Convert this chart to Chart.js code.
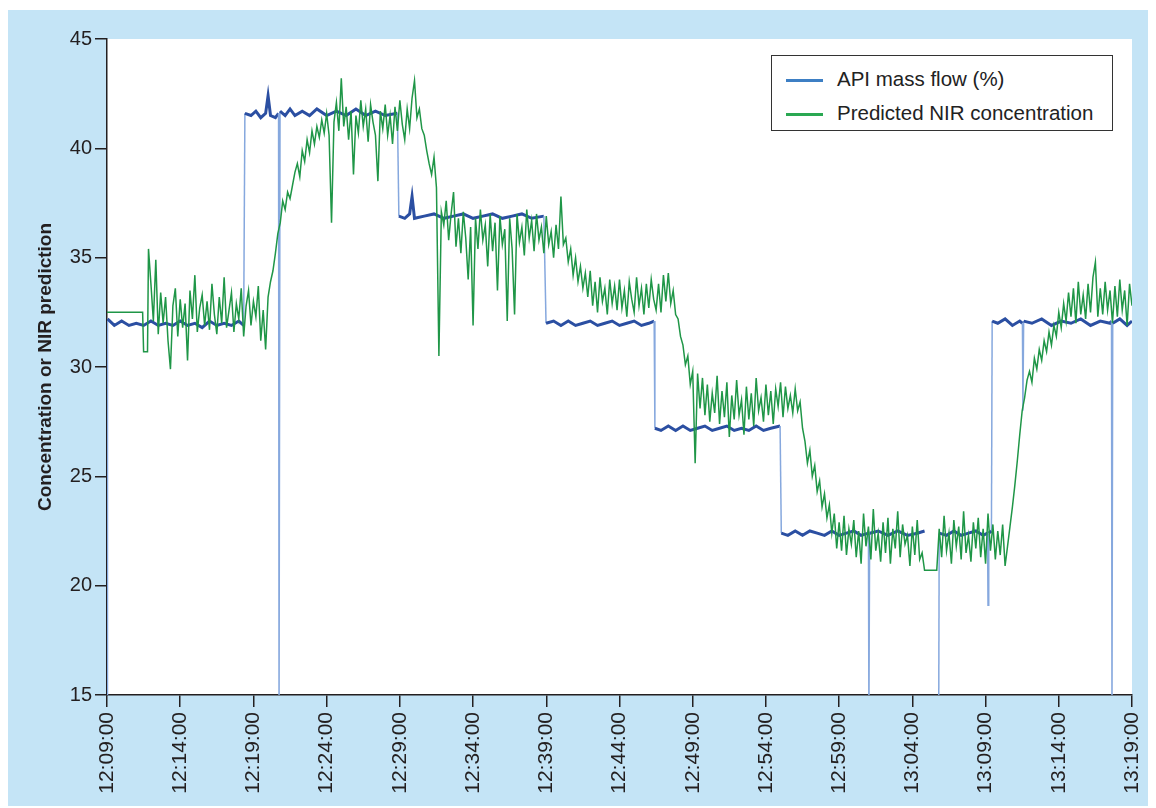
<!DOCTYPE html>
<html lang="en">
<head>
  <meta charset="UTF-8">
  <title>API mass flow vs predicted NIR concentration</title>
  <style>
    body {
      margin: 0;
      background: #fff;
      font-family: "Liberation Sans", Arial, sans-serif;
    }
    #wrap {
      position: relative;
      width: 1156px;
      height: 808px;
    }
    #legend {
      position: absolute;
      left: 771px;
      top: 55px;
      width: 342px;
      height: 76px;
      border: 1.5px solid #333;
      background: #fff;
      box-sizing: border-box;
      font-size: 20.5px;
      color: #222;
    }
    .item {
      position: absolute;
      left: 14px;
      height: 24px;
      line-height: 24px;
      white-space: nowrap;
    }
    .item span {
      display: inline-block;
      width: 37px;
      height: 3px;
      vertical-align: middle;
      margin-right: 14px;
    }
  </style>
</head>
<body>
<div id="wrap">
  <canvas id="myChart" width="1156" height="808"></canvas>
  <div id="legend">
    <div class="item" style="top:11px"><span style="background:#3d7fc4"></span>API mass flow (%)</div>
    <div class="item" style="top:45px"><span style="background:#2aa852"></span>Predicted NIR concentration</div>
  </div>
</div>

<script src="https://cdn.jsdelivr.net/npm/chart.js"></script>
<script>
  // time is in seconds after 12:09:00
  var startLabel = 12 * 3600 + 9 * 60;
  var xTicks = [0, 300, 600, 900, 1200, 1500, 1800, 2100, 2400, 2700, 3000, 3300, 3600, 3900, 4200];
  var yTicks = [15, 20, 25, 30, 35, 40, 45];

  // API mass flow (%): set-point steps with small noise and a few dropouts
  var apiSec = [
    0, 2, 30, 60, 90, 120, 150, 180, 210, 240, 270, 300, 330, 360, 390, 420, 450, 480, 510, 540, 560,
    565, 590, 610, 630, 650, 660, 670, 690, 703, 705, 709, 730, 750, 770, 800, 830, 860, 900, 940, 980,
    1020, 1060, 1100, 1140, 1190,
    1196, 1220, 1240, 1250, 1260, 1300, 1340, 1380, 1420, 1460, 1500, 1540, 1580, 1620, 1660, 1700, 1740, 1790,
    1799, 1830, 1860, 1890, 1920, 1950, 1980, 2010, 2040, 2070, 2100, 2130, 2160, 2190, 2220, 2242,
    2245, 2270, 2300, 2330, 2360, 2390, 2420, 2450, 2480, 2510, 2540, 2570, 2600, 2630, 2660, 2690, 2720, 2758,
    2763, 2790, 2820, 2850, 2880, 2910, 2940, 2970, 3000, 3030, 3060, 3090, 3120, 3122, 3125, 3160, 3200,
    3240, 3280, 3320, 3350, 3352,
    3408, 3410, 3440, 3470, 3500, 3530, 3560, 3590, 3608, 3610, 3613, 3624,
    3627, 3650, 3680, 3710, 3740, 3751, 3753, 3756, 3790, 3830, 3870, 3910, 3950, 3990, 4030, 4070, 4110,
    4116, 4118, 4121, 4150, 4180, 4200
  ];
  var apiVal = [
    15, 32.2, 31.9, 32.1, 31.9, 32.0, 31.9, 32.1, 31.9, 32.0, 31.9, 32.1, 31.9, 32.0, 31.8, 32.1, 31.9, 32.0, 31.9, 32.1, 31.9,
    41.6, 41.5, 41.7, 41.4, 41.6, 42.4, 41.5, 41.4, 41.6, 14, 41.7, 41.5, 41.8, 41.5, 41.7, 41.5, 41.8, 41.5, 41.7, 41.5,
    41.8, 41.5, 41.7, 41.5, 41.6,
    36.9, 36.8, 37.0, 37.8, 36.8, 36.9, 37.0, 36.8, 36.9, 37.0, 36.8, 36.9, 37.0, 36.8, 36.9, 37.0, 36.8, 36.9,
    32.0, 32.1, 31.9, 32.1, 31.9, 32.0, 32.1, 31.9, 32.0, 32.1, 31.9, 32.0, 32.1, 31.9, 32.0, 32.1,
    27.2, 27.1, 27.3, 27.1, 27.3, 27.1, 27.2, 27.3, 27.1, 27.2, 27.3, 27.1, 27.2, 27.1, 27.3, 27.1, 27.2, 27.3,
    22.4, 22.3, 22.5, 22.3, 22.5, 22.4, 22.3, 22.5, 22.3, 22.4, 22.5, 22.3, 22.4, 14, 22.4, 22.5, 22.3,
    22.5, 22.3, 22.4, 22.5, null,
    14, 22.4, 22.3, 22.5, 22.3, 22.4, 22.5, 22.3, 22.4, 19.1, 22.4, 22.5,
    32.1, 32.0, 32.2, 31.9, 32.1, 32.0, 28.0, 32.1, 32.0, 32.2, 31.9, 32.1, 32.0, 32.2, 31.9, 32.1, 32.0,
    32.1, 14, 32.0, 32.2, 31.9, 32.1
  ];

  // Predicted NIR concentration: first a few hand-placed points, then the
  // logged readings at a 10 s interval from nirLogStart onwards
  var nirHeadSec = [0, 146, 150, 166, 170];
  var nirHeadVal = [32.5, 32.5, 30.7, 30.7, 35.4];
  var nirLogStart = 180;
  var nirLogStep = 10;
  var nirLog = [
    33.8, 32.1, 34.9, 31.5, 33.4, 32.0, 33.2, 31.2, 29.9, 32.8, 33.6, 31.4,   // 12:12
    33.1, 31.8, 32.9, 30.3, 33.5, 32.2, 34.2, 31.6, 32.7, 33.3, 31.9, 33.0,   // 12:14
    31.7, 33.8, 32.4, 31.5, 33.2, 32.0, 34.1, 31.8, 32.6, 33.4, 31.6, 32.9,   // 12:16
    32.2, 33.6, 31.4, 32.8, 33.5, 31.9, 33.0, 32.3, 33.7, 31.2, 32.6, 30.8,   // 12:18
    33.2, 33.9, 34.4, 35.2, 36.1, 36.6, 37.6, 37.2, 38.0, 37.7, 38.3, 38.9,   // 12:20
    39.3, 38.7, 39.9, 39.4, 40.4, 39.8, 40.8, 40.2, 41.0, 40.5, 41.3, 40.7,   // 12:22
    41.6, 40.6, 36.6, 41.2, 42.1, 40.8, 43.2, 41.0, 41.9, 40.4, 41.7, 38.8,   // 12:24
    41.5, 40.7, 42.2, 41.0, 41.8, 40.3, 42.0, 41.2, 40.6, 38.5, 41.7, 40.9,   // 12:26
    42.0, 40.6, 41.5, 40.2, 41.9, 40.8, 42.2, 41.1, 40.4, 41.8, 40.9, 42.3,   // 12:28
    43.1, 41.4, 41.8, 40.9, 40.6, 39.9, 39.3, 38.8, 39.6, 38.2, 30.5, 37.1,   // 12:30
    36.5, 37.6, 35.8, 37.0, 38.0, 35.5, 36.8, 35.2, 37.1, 35.9, 34.0, 36.4,   // 12:32
    31.9, 36.8, 35.4, 37.2, 35.8, 36.5, 34.6, 37.0, 35.3, 36.6, 33.5, 36.9,   // 12:34
    35.6, 36.3, 32.1, 36.8, 35.4, 32.4, 37.0, 35.7, 36.4, 35.1, 37.2, 35.9,   // 12:36
    36.7, 35.3, 37.0, 35.8, 36.4, 35.2, 36.9, 35.6, 36.2, 35.0, 36.5, 35.4,   // 12:38
    37.8, 35.6, 35.9, 34.8, 35.4, 34.2, 35.0, 33.9, 34.6, 33.6, 34.3, 33.2,   // 12:40
    34.4, 32.8, 33.9, 32.5, 34.1, 33.0, 33.6, 32.4, 34.0, 32.9, 33.7, 32.6,   // 12:42
    34.0, 32.7, 33.5, 32.3, 33.9, 33.1, 32.5, 34.1, 32.8, 33.6, 32.4, 33.8,   // 12:44
    32.7, 34.0, 33.1, 32.6, 33.8, 32.5, 34.2, 33.0, 34.3, 32.9, 33.5, 32.4,   // 12:46
    32.2, 31.4, 31.0, 30.1, 30.5, 29.2, 29.8, 25.6, 29.7, 28.1, 29.5, 27.8,   // 12:48
    29.2, 27.5, 28.8, 27.9, 29.6, 27.4, 28.9, 27.7, 29.3, 26.8, 28.7, 27.6,   // 12:50
    29.4, 27.8, 28.5, 26.9, 29.1, 27.6, 28.8, 27.3, 29.5, 28.0, 28.6, 27.5,   // 12:52
    29.2, 27.8, 28.9, 27.4, 29.0, 28.2, 29.3, 27.7, 29.1, 28.1, 28.7, 27.9,   // 12:54
    29.0, 28.0, 28.4, 27.2, 26.6, 25.6, 26.2, 25.0, 25.5, 24.3, 24.8, 23.6,   // 12:56
    24.2, 23.1, 23.7, 22.4, 23.3, 21.7, 22.9, 21.6, 23.2, 21.4, 22.6, 21.9,   // 12:58
    23.0, 21.3, 22.5, 21.0, 23.3, 21.8, 22.7, 21.2, 23.5, 21.6, 22.4, 21.1,   // 13:00
    22.9, 21.5, 23.1, 21.0, 22.6, 21.7, 23.4, 21.3, 22.8, 21.9, 22.3, 20.9,   // 13:02
    22.7, 21.4, 23.0, 21.2, 21.5, 20.7, 20.7, 20.7, 20.7, 20.7, 20.7, 22.6,   // 13:04
    21.3, 23.2, 21.6, 22.4, 21.0, 23.0, 21.8, 22.7, 21.2, 23.4, 21.5, 22.3,   // 13:06
    21.1, 22.9, 21.7, 23.1, 21.3, 22.6, 21.0, 23.3, 21.6, 22.8, 21.2, 22.5,   // 13:08
    21.4, 22.8, 20.9, 21.8, 22.7, 23.6, 24.6, 25.7, 26.9, 28.0, 28.6, 29.4,   // 13:10
    29.8, 29.3, 30.4, 29.9, 30.8, 30.3, 31.2, 30.7, 31.6, 31.0, 31.9, 31.4,   // 13:12
    32.5, 31.8, 32.9, 32.1, 33.4, 32.3, 33.6, 32.0, 33.9, 32.4, 33.3, 32.2,   // 13:14
    33.8, 32.5, 34.1, 34.8, 32.3, 33.6, 32.4, 33.9, 32.6, 33.5, 32.0, 33.7,   // 13:16
    32.3, 34.0, 32.6, 33.5, 31.9, 33.8, 32.8                                  // 13:18
  ];

  function pairs(xs, ys) {
    return xs.map(function (x, i) { return { x: x, y: ys[i] }; });
  }

  function nirPoints() {
    var pts = pairs(nirHeadSec, nirHeadVal);
    nirLog.forEach(function (v, i) {
      pts.push({ x: nirLogStart + i * nirLogStep, y: v });
    });
    return pts;
  }

  function clock(sec) {
    var t = startLabel + sec;
    var h = Math.floor(t / 3600);
    var m = Math.floor((t % 3600) / 60);
    var s = t % 60;
    return h + ':' + String(m).padStart(2, '0') + ':' + String(s).padStart(2, '0');
  }

  var ink = '#231f20';
  var fontName = '"Liberation Sans", Arial, sans-serif';

  // paints the blue frame and the white plot area
  var frame = {
    id: 'frame',
    beforeDraw: function (chart) {
      var c = chart.ctx, a = chart.chartArea;
      c.save();
      c.fillStyle = '#ffffff';
      c.fillRect(0, 0, chart.width, chart.height);
      c.fillStyle = '#c4e4f6';
      c.fillRect(8, 10, 1140, 796);
      c.fillStyle = '#ffffff';
      c.fillRect(a.left, a.top, a.right - a.left, a.bottom - a.top);
      c.restore();
    }
  };

  var ctx = document.getElementById('myChart').getContext('2d');
  var myChart = new Chart(ctx, {
    type: 'line',
    data: {
      datasets: [{
        label: 'Predicted NIR concentration',
        data: nirPoints(),
        borderColor: '#1f9647',
        borderWidth: 1.5,
        pointRadius: 0,
        order: 0
      }, {
        label: 'API mass flow (%)',
        data: pairs(apiSec, apiVal),
        borderColor: '#2b4fa2',
        borderWidth: 3,
        pointRadius: 0,
        spanGaps: false,
        order: 1,
        segment: {
          borderColor: function (s) {
            return Math.abs(s.p0.parsed.y - s.p1.parsed.y) > 3 ? '#86a8de' : undefined;
          },
          borderWidth: function (s) {
            return Math.abs(s.p0.parsed.y - s.p1.parsed.y) > 3 ? 1.5 : undefined;
          }
        }
      }]
    },
    options: {
      responsive: false,
      animation: false,
      events: [],
      layout: { padding: { left: 8, right: 24, top: 39, bottom: 0 } },
      plugins: {
        legend: { display: false },
        tooltip: { enabled: false }
      },
      scales: {
        x: {
          type: 'linear',
          min: 0,
          max: 4200,
          afterFit: function (scale) {
            scale.height = 113;
            // end labels stay inside the 24 px right margin
            scale.paddingLeft = 0;
            scale.paddingRight = 0;
          },
          afterBuildTicks: function (scale) {
            scale.ticks = xTicks.map(function (v) { return { value: v }; });
          },
          grid: { drawOnChartArea: false, color: ink, lineWidth: 1.5, tickLength: 12 },
          border: { color: ink, width: 1.5 },
          ticks: {
            autoSkip: false,
            minRotation: 90,
            maxRotation: 90,
            padding: 5,
            color: ink,
            font: { family: fontName, size: 21 },
            callback: function (v) { return clock(v); }
          }
        },
        y: {
          min: 15,
          max: 45,
          afterFit: function (scale) { scale.width = 99; },
          afterBuildTicks: function (scale) {
            scale.ticks = yTicks.map(function (v) { return { value: v }; });
          },
          grid: { drawOnChartArea: false, color: ink, lineWidth: 1.5, tickLength: 12 },
          border: { color: ink, width: 1.5 },
          ticks: {
            padding: 3,
            color: ink,
            font: { family: fontName, size: 20 }
          },
          title: {
            display: true,
            text: 'Concentration or NIR prediction',
            color: ink,
            padding: { top: 26, bottom: 0 },
            font: { family: fontName, size: 19, weight: 'bold' }
          }
        }
      }
    },
    plugins: [frame]
  });
</script>
</body>
</html>
